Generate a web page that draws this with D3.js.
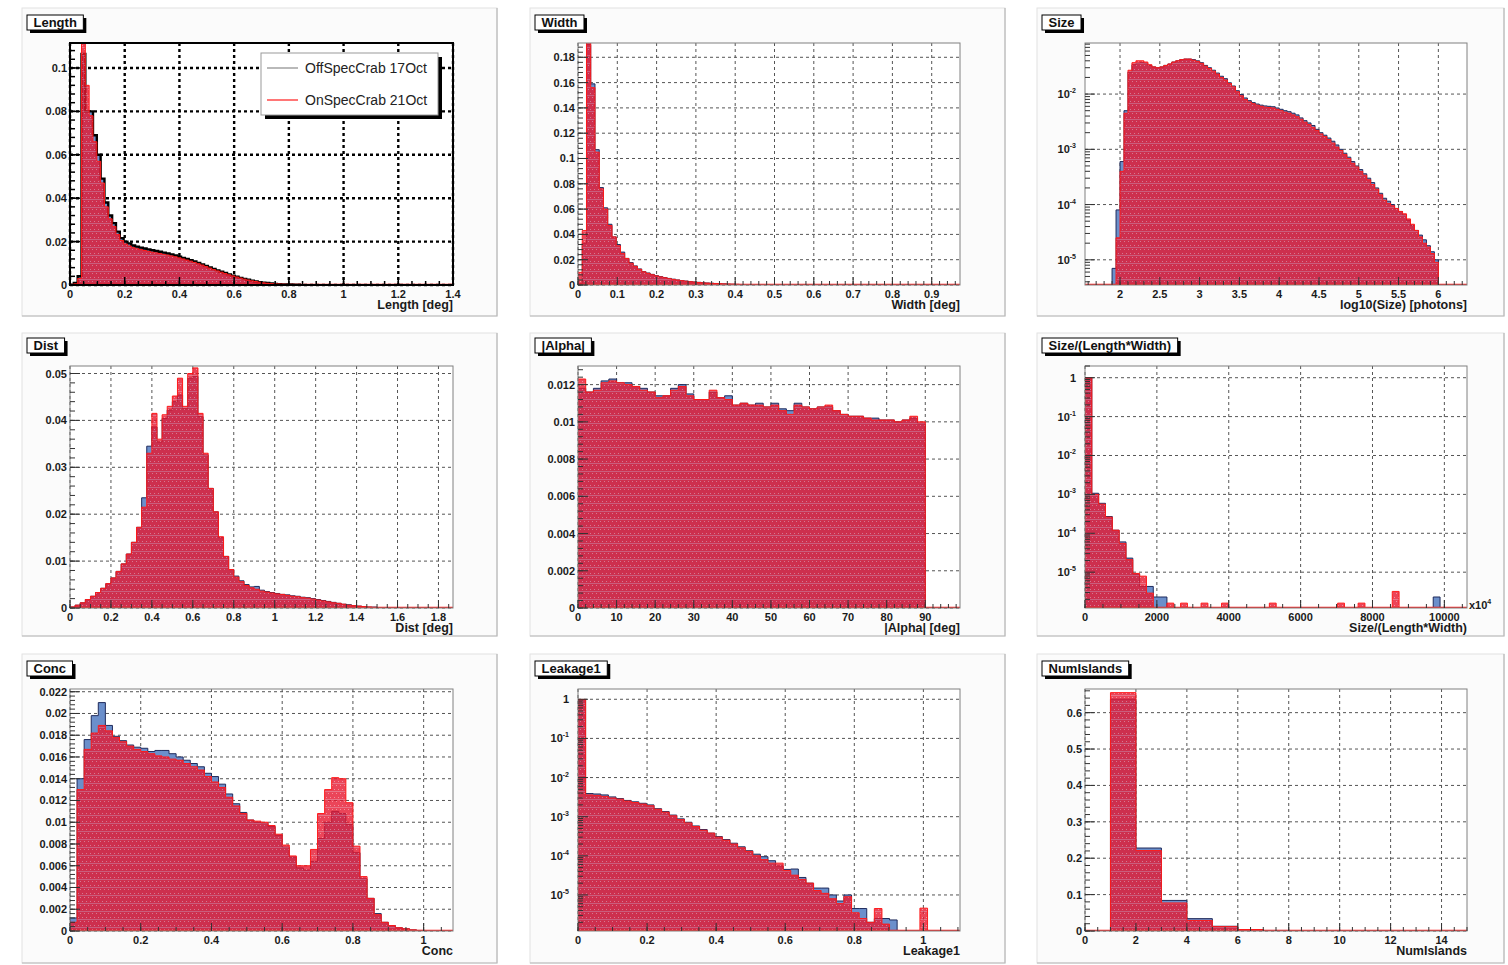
<!DOCTYPE html>
<html>
<head>
<meta charset="utf-8">
<script src="https://cdn.jsdelivr.net/npm/d3@7"></script>
<style>
    body { margin: 0; background: #fff; }
    text { font-family: "Liberation Sans", Arial, Helvetica, sans-serif; }
</style>
</head>
<body>
<div id="chart"></div>
<script>

// ---- histogram contents (normalised counts per bin) ----

var lengthOff = [0, 0.001, 0.004, 0.1065, 0.080, 0.080, 0.069, 0.060, 0.049, 0.038, 0.032, 0.0285, 0.0246, 0.0216, 0.0200,
    0.0192, 0.0182, 0.0177, 0.0172, 0.0168, 0.0164, 0.0160, 0.0157, 0.0153, 0.0149, 0.0145, 0.0141, 0.0136, 0.0130, 0.0125,
    0.0120, 0.0114, 0.0108, 0.0102, 0.0095, 0.0088, 0.0081, 0.0074, 0.0067, 0.0061, 0.0055, 0.0049, 0.0043, 0.0038, 0.0033,
    0.0028, 0.0024, 0.0020, 0.0016, 0.0013, 0.0011, 0.0009, 0.0007, 0.0005, 0.0004, 0.0003, 0.0002, 0.0002, 0.0001, 0.0001];
var lengthOn = [0, 0.0005, 0.003, 0.118, 0.092, 0.078, 0.066, 0.057, 0.047, 0.036, 0.0305, 0.027, 0.0233, 0.0205, 0.0189,
    0.0180, 0.0172, 0.0167, 0.0163, 0.0159, 0.0155, 0.0151, 0.0148, 0.0145, 0.0141, 0.0138, 0.0134, 0.0130, 0.0125, 0.0120,
    0.0115, 0.0110, 0.0104, 0.0098, 0.0092, 0.0085, 0.0078, 0.0071, 0.0065, 0.0059, 0.0053, 0.0047, 0.0042, 0.0037, 0.0032,
    0.0027, 0.0023, 0.0019, 0.0016, 0.0013, 0.0010, 0.0008, 0.0006, 0.0005, 0.0004, 0.0003, 0.0002, 0.0001, 0.0001, 0.0001];

var widthOff = [0.001, 0.033, 0.190, 0.159, 0.107, 0.077, 0.061, 0.048, 0.038, 0.032, 0.026, 0.021, 0.0177, 0.0151, 0.0127,
    0.0106, 0.0095, 0.0084, 0.0074, 0.0066, 0.0059, 0.0052, 0.0046, 0.0040, 0.0035, 0.0031, 0.0027, 0.0024, 0.0021, 0.0018,
    0.0016, 0.0014, 0.0012, 0.0010, 0.0009, 0.0007, 0.0006, 0.0005, 0.0004, 0.0003, 0.0003, 0.0002, 0.0002, 0.0001, 0.0001, 0.0001];
var widthOn = [0.010, 0.043, 0.200, 0.156, 0.105, 0.076, 0.060, 0.047, 0.038, 0.031, 0.025, 0.021, 0.0172, 0.0147, 0.0124,
    0.0104, 0.0092, 0.0081, 0.0072, 0.0064, 0.0057, 0.0050, 0.0044, 0.0039, 0.0034, 0.0030, 0.0026, 0.0023, 0.0020, 0.0017,
    0.0015, 0.0013, 0.0011, 0.0010, 0.0008, 0.0007, 0.0006, 0.0005, 0.0004, 0.0003, 0.0002, 0.0002, 0.0002, 0.0001, 0.0001, 0.0001];

var sizeOff = [7e-6, 8e-5, 6e-4, 5e-3, 0.025, 0.034, 0.036, 0.037, 0.036, 0.033, 0.031, 0.030, 0.031, 0.033, 0.035,
    0.038, 0.040, 0.042, 0.043, 0.043, 0.042, 0.040, 0.037, 0.033, 0.030, 0.027, 0.024, 0.021, 0.019, 0.016,
    0.014, 0.0115, 0.0098, 0.0085, 0.0076, 0.0070, 0.0066, 0.0063, 0.0061, 0.0060, 0.0059, 0.0056, 0.0053, 0.0050, 0.0048,
    0.0045, 0.0042, 0.0037, 0.0033, 0.0030, 0.0027, 0.0023, 0.0020, 0.0018, 0.0016, 0.0014, 0.0012, 0.0010, 8.5e-4, 7.2e-4,
    6.0e-4, 5.0e-4, 4.3e-4, 3.6e-4, 3.0e-4, 2.5e-4, 2.0e-4, 1.6e-4, 1.3e-4, 1.15e-4, 1.0e-4, 8.5e-5, 7.5e-5, 6.5e-5, 5.2e-5,
    4.2e-5, 3.4e-5, 2.8e-5, 2.3e-5, 1.8e-5, 1.4e-5, 1.0e-5];
var sizeOn = [0, 2.5e-5, 4e-4, 4.5e-3, 0.027, 0.037, 0.040, 0.040, 0.038, 0.034, 0.031, 0.030, 0.031, 0.033, 0.035,
    0.038, 0.040, 0.042, 0.043, 0.043, 0.041, 0.039, 0.036, 0.032, 0.029, 0.026, 0.023, 0.020, 0.018, 0.0155,
    0.0135, 0.011, 0.0093, 0.0080, 0.0072, 0.0067, 0.0063, 0.0060, 0.0058, 0.0057, 0.0056, 0.0053, 0.0050, 0.0047, 0.0045,
    0.0042, 0.0039, 0.0035, 0.0031, 0.0028, 0.0025, 0.0022, 0.0019, 0.0017, 0.0015, 0.0013, 0.0011, 9.5e-4, 8.0e-4, 6.8e-4,
    5.6e-4, 4.8e-4, 4.0e-4, 3.4e-4, 2.8e-4, 2.3e-4, 1.9e-4, 1.5e-4, 1.2e-4, 1.05e-4, 9.5e-5, 8.5e-5, 7.5e-5, 6.8e-5, 5.5e-5,
    4.4e-5, 3.4e-5, 2.6e-5, 2.0e-5, 1.7e-5, 1.3e-5, 9e-6];

var distOff = [0.0002, 0.0006, 0.0011, 0.0018, 0.0025, 0.0033, 0.0042, 0.0052, 0.0064, 0.0078, 0.0094, 0.0115, 0.0140, 0.0172,
    0.0235, 0.0345, 0.0386, 0.0354, 0.0404, 0.0422, 0.0440, 0.0454, 0.0425, 0.0490, 0.0494, 0.0408, 0.0326, 0.0255, 0.0205,
    0.0150, 0.0110, 0.0082, 0.0068, 0.0058, 0.0050, 0.0045, 0.0046, 0.0038, 0.0035, 0.0033, 0.0031, 0.0029, 0.0028, 0.0026,
    0.0025, 0.0023, 0.0022, 0.0020, 0.0018, 0.0016, 0.0014, 0.0012, 0.0010, 0.0008, 0.0007, 0.0005, 0.0004, 0.0003, 0.0002,
    0.0002, 0.0001, 0.0001, 0.00005, 0.00003];
var distOn = [0.0002, 0.0006, 0.0011, 0.0018, 0.0025, 0.0033, 0.0042, 0.0052, 0.0064, 0.0078, 0.0094, 0.0115, 0.0140, 0.0172,
    0.0215, 0.0330, 0.0415, 0.0360, 0.0412, 0.0430, 0.0452, 0.0490, 0.0430, 0.0500, 0.0512, 0.0415, 0.0330, 0.0255, 0.0205,
    0.0152, 0.0110, 0.0082, 0.0066, 0.0056, 0.0048, 0.0043, 0.0040, 0.0036, 0.0034, 0.0032, 0.0030, 0.0029, 0.0027, 0.0025,
    0.0024, 0.0022, 0.0021, 0.0019, 0.0017, 0.0015, 0.0013, 0.0011, 0.0010, 0.0008, 0.0006, 0.0005, 0.0004, 0.0003, 0.0002,
    0.0001, 0.0001, 0.0001, 0.00005, 0.00003];

var alphaOff = [0.0118, 0.0116, 0.0118, 0.0122, 0.0123, 0.0121, 0.0121, 0.0119, 0.0118, 0.0116, 0.0114, 0.0114, 0.0118, 0.0120,
    0.0115, 0.0112, 0.0112, 0.0116, 0.0113, 0.0114, 0.0109, 0.0110, 0.0109, 0.0110, 0.0108, 0.0110, 0.0107, 0.0106, 0.0110,
    0.0108, 0.0107, 0.0108, 0.0108, 0.0106, 0.0104, 0.0103, 0.0103, 0.0102, 0.0102, 0.0101, 0.0101, 0.0100, 0.0101, 0.0102, 0.0099];
var alphaOn = [0.0123, 0.0116, 0.0117, 0.0121, 0.0122, 0.0121, 0.0120, 0.0119, 0.0117, 0.0116, 0.0113, 0.0114, 0.0117, 0.0119,
    0.0114, 0.0112, 0.0112, 0.0117, 0.0113, 0.0112, 0.0109, 0.0110, 0.0109, 0.0109, 0.0108, 0.0109, 0.0106, 0.0104, 0.0109,
    0.0108, 0.0107, 0.0108, 0.0109, 0.0106, 0.0104, 0.0103, 0.0103, 0.0102, 0.0101, 0.0101, 0.0101, 0.0100, 0.0101, 0.0103, 0.0100];

var slwOff = [0.997, 1.07e-3, 5.9e-4, 2.7e-4, 1.2e-4, 6e-5, 2.3e-5, 9e-6, 4.3e-6, 4.3e-6, 2.3e-6, 2.3e-6];
var slwOn = [0.997, 1.0e-3, 5.6e-4, 2.6e-4, 1.2e-4, 5.5e-5, 2.1e-5, 9.3e-6, 7.9e-6, 2.9e-6, 0, 0];
// isolated single-event bins far out in the tail: [position, content]
var slwOffSpikes = [[9838, 2.3e-6]];
var slwOnSpikes = [[2372, 1.6e-6], [2698, 1.6e-6], [3256, 1.6e-6], [3815, 1.6e-6], [5238, 1.6e-6],
    [7099, 1.6e-6], [7769, 1.6e-6], [8607, 3.2e-6]];

var concOff = [0.0012, 0.0140, 0.0176, 0.0198, 0.0210, 0.0189, 0.0179, 0.0175, 0.0171, 0.0169, 0.0168, 0.0165, 0.0166, 0.0166,
    0.0163, 0.0160, 0.0157, 0.0154, 0.0151, 0.0145, 0.0142, 0.0135, 0.0126, 0.0117, 0.0109, 0.0102, 0.0100, 0.0099, 0.0096,
    0.0088, 0.0077, 0.0068, 0.0058, 0.0056, 0.0064, 0.0085, 0.0100, 0.0110, 0.0108, 0.0098, 0.0072, 0.0048, 0.0030, 0.0016,
    0.0008, 0.0005, 0.0003, 0.0002, 0.0001, 0.00005];
var concOn = [0.0008, 0.0130, 0.0167, 0.0182, 0.0189, 0.0184, 0.0178, 0.0174, 0.0170, 0.0167, 0.0165, 0.0163, 0.0161, 0.0160,
    0.0158, 0.0157, 0.0154, 0.0151, 0.0148, 0.0142, 0.0137, 0.0132, 0.0123, 0.0115, 0.0108, 0.0102, 0.0101, 0.0100, 0.0097,
    0.0089, 0.0079, 0.0069, 0.0060, 0.0060, 0.0075, 0.0108, 0.0130, 0.0141, 0.0140, 0.0118, 0.0078, 0.0050, 0.0030, 0.0015,
    0.0008, 0.0005, 0.0003, 0.0002, 0.0001, 0.00005];

var leakOff = [0.985, 3.9e-3, 3.8e-3, 3.6e-3, 3.2e-3, 2.9e-3, 2.6e-3, 2.4e-3, 2.2e-3, 2.0e-3, 1.6e-3, 1.35e-3, 1.1e-3, 8.8e-4,
    7.2e-4, 5.8e-4, 4.7e-4, 3.8e-4, 3.1e-4, 2.6e-4, 2.1e-4, 1.7e-4, 1.35e-4, 1.1e-4, 9.5e-5, 7.5e-5, 5.5e-5, 4.5e-5, 4.6e-5,
    2.8e-5, 2.0e-5, 1.5e-5, 1.5e-5, 1.0e-5, 7e-6, 1.0e-5, 4.5e-6, 4.5e-6, 2e-6, 2.5e-6, 2.5e-6, 2.3e-6, 0, 0, 0, 0];
var leakOn = [0.99, 3.6e-3, 3.5e-3, 3.3e-3, 3.0e-3, 2.8e-3, 2.5e-3, 2.3e-3, 2.1e-3, 1.9e-3, 1.55e-3, 1.3e-3, 1.05e-3, 8.4e-4,
    6.9e-4, 5.6e-4, 4.5e-4, 3.8e-4, 3.0e-4, 2.5e-4, 2.0e-4, 1.6e-4, 1.3e-4, 1.0e-4, 8.0e-5, 6.5e-5, 6.5e-5, 4.2e-5, 3.2e-5,
    2.5e-5, 2.0e-5, 1.3e-5, 1.1e-5, 8e-6, 6e-6, 9e-6, 3.5e-6, 2.5e-6, 2e-6, 4.5e-6, 1.8e-6, 0, 0, 0, 0, 4.6e-6];

var islandsOff = [0, 0.637, 0.228, 0.084, 0.034, 0.013, 0.004, 0.0015, 0.0006, 0.0003, 0.0002, 0.0001, 0.0001, 0, 0];
var islandsOn = [0, 0.655, 0.221, 0.077, 0.029, 0.012, 0.004, 0.0013, 0.0005, 0.0002, 0.0001, 0.0001, 0, 0, 0];

// ---- tick values ----
var lengthXTicks = [0, 0.2, 0.4, 0.6, 0.8, 1, 1.2, 1.4];
var lengthYTicks = [0, 0.02, 0.04, 0.06, 0.08, 0.1];
var widthXTicks = [0, 0.1, 0.2, 0.3, 0.4, 0.5, 0.6, 0.7, 0.8, 0.9];
var widthYTicks = [0, 0.02, 0.04, 0.06, 0.08, 0.1, 0.12, 0.14, 0.16, 0.18];
var sizeXTicks = [2, 2.5, 3, 3.5, 4, 4.5, 5, 5.5, 6];
var sizeYTicks = [1e-5, 1e-4, 1e-3, 1e-2];
var distXTicks = [0, 0.2, 0.4, 0.6, 0.8, 1, 1.2, 1.4, 1.6, 1.8];
var distYTicks = [0, 0.01, 0.02, 0.03, 0.04, 0.05];
var alphaXTicks = [0, 10, 20, 30, 40, 50, 60, 70, 80, 90];
var alphaYTicks = [0, 0.002, 0.004, 0.006, 0.008, 0.01, 0.012];
var slwXTicks = [0, 2000, 4000, 6000, 8000, 10000];
var slwYTicks = [1e-5, 1e-4, 1e-3, 1e-2, 1e-1, 1];
var concXTicks = [0, 0.2, 0.4, 0.6, 0.8, 1];
var concYTicks = [0, 0.002, 0.004, 0.006, 0.008, 0.01, 0.012, 0.014, 0.016, 0.018, 0.02, 0.022];
var leakXTicks = [0, 0.2, 0.4, 0.6, 0.8, 1];
var leakYTicks = [1e-5, 1e-4, 1e-3, 1e-2, 1e-1, 1];
var islandsXTicks = [0, 2, 4, 6, 8, 10, 12, 14];
var islandsYTicks = [0, 0.1, 0.2, 0.3, 0.4, 0.5, 0.6];

var legendLabels = ["OffSpecCrab 17Oct", "OnSpecCrab 21Oct"];


function withSpikes(dense, spikes, lo, w) {
    var out = dense.slice();
    spikes.forEach(function (s) {
        var i = Math.floor((s[0] - lo) / w);
        while (out.length <= i) out.push(0);
        out[i] = s[1];
    });
    return out;
}

var panels = [
    {title: "Length", xTitle: "Length [deg]", xDom: [0, 1.4], yDom: [0, 0.1115], lo: 0, w: 0.014,
        off: lengthOff, on: lengthOn, xTicks: lengthXTicks, yTicks: lengthYTicks, xMinor: 0.05, yMinor: 0.004, heavy: true},
    {title: "Width", xTitle: "Width [deg]", xDom: [0, 0.972], yDom: [0, 0.1913], lo: 0, w: 0.0108,
        off: widthOff, on: widthOn, xTicks: widthXTicks, yTicks: widthYTicks, xMinor: 0.02, yMinor: 0.004},
    {title: "Size", xTitle: "log10(Size) [photons]", xDom: [1.56, 6.36], yDom: [3.5e-6, 0.084], log: true, lo: 1.9, w: 0.05,
        off: sizeOff, on: sizeOn, xTicks: sizeXTicks, yTicks: sizeYTicks, xMinor: 0.1},
    {title: "Dist", xTitle: "Dist [deg]", xDom: [0, 1.871], yDom: [0, 0.0516], lo: 0, w: 0.025,
        off: distOff, on: distOn, xTicks: distXTicks, yTicks: distYTicks, xMinor: 0.05, yMinor: 0.002},
    {title: "|Alpha|", xTitle: "|Alpha| [deg]", xDom: [0, 99], yDom: [0, 0.013], lo: 0, w: 2,
        off: alphaOff, on: alphaOn, xTicks: alphaXTicks, yTicks: alphaYTicks, xMinor: 2, yMinor: 0.0004},
    {title: "Size/(Length*Width)", xTitle: "Size/(Length*Width)", xDom: [0, 10630], yDom: [1.2e-6, 2], log: true, lo: 0, w: 190,
        off: withSpikes(slwOff, slwOffSpikes, 0, 190), on: withSpikes(slwOn, slwOnSpikes, 0, 190),
        xTicks: slwXTicks, yTicks: slwYTicks, xMinor: 500, xExp: "4"},
    {title: "Conc", xTitle: "Conc", xDom: [0, 1.083], yDom: [0, 0.02225], lo: 0, w: 0.02,
        off: concOff, on: concOn, xTicks: concXTicks, yTicks: concYTicks, xMinor: 0.05, yMinor: 0.0004},
    {title: "Leakage1", xTitle: "Leakage1", xDom: [0, 1.106], yDom: [1.2e-6, 1.83], log: true, lo: 0, w: 0.022,
        off: leakOff, on: leakOn, xTicks: leakXTicks, yTicks: leakYTicks, xMinor: 0.05},
    {title: "NumIslands", xTitle: "NumIslands", xDom: [0, 15], yDom: [0, 0.665], lo: 0, w: 1,
        off: islandsOff, on: islandsOn, xTicks: islandsXTicks, yTicks: islandsYTicks, xMinor: 0.5, yMinor: 0.02}
];

var frameX = [[70, 453], [578, 960], [1085, 1467]];
var frameY = [[43, 285], [366, 608], [689, 931]];
var padX = [[22, 497], [530, 1005], [1037, 1504]];
var padY = [[8, 316], [333, 636], [654, 963]];
var titleY = [15, 338, 661];

var svg = d3.select("#chart").append("svg")
    .attr("width", 1508)
    .attr("height", 965);

var defs = svg.append("defs");
var pat = defs.append("pattern")
    .attr("id", "redfill")
    .attr("patternUnits", "userSpaceOnUse")
    .attr("width", 4)
    .attr("height", 8);
pat.append("rect").attr("width", 4).attr("height", 8).attr("fill", "#e6172f");
pat.append("rect").attr("x", 0).attr("y", 1).attr("width", 1).attr("height", 1).attr("fill", "#fff").attr("opacity", 0.4);
pat.append("rect").attr("x", 2).attr("y", 5).attr("width", 1).attr("height", 1).attr("fill", "#fff").attr("opacity", 0.4);
pat.append("rect").attr("x", 0).attr("y", 7).attr("width", 4).attr("height", 1).attr("fill", "#d8d8f0").attr("opacity", 0.3);

function fmt(v) {
    return String(+v.toFixed(6));
}

function minorValues(dom, step) {
    var out = [];
    for (var k = Math.ceil(dom[0] / step - 1e-9); k * step <= dom[1] + 1e-9; k++) out.push(k * step);
    return out;
}

function logMinors(dom) {
    var out = [];
    var e0 = Math.floor(Math.log10(dom[0])), e1 = Math.ceil(Math.log10(dom[1]));
    for (var e = e0; e <= e1; e++) {
        for (var m = 2; m <= 9; m++) {
            var v = m * Math.pow(10, e);
            if (v >= dom[0] && v <= dom[1]) out.push(v);
        }
    }
    return out;
}

function stepPoints(p, vals, x, y) {
    var base = y.range()[0];
    var yv = function (v) {
        if (p.log) return v > 0 ? y(v) : base + 3;
        return y(v);
    };
    var pts = [[x(p.lo), base]];
    vals.forEach(function (v, i) {
        pts.push([x(p.lo + i * p.w), yv(v)]);
        pts.push([x(p.lo + (i + 1) * p.w), yv(v)]);
    });
    pts.push([x(p.lo + vals.length * p.w), base]);
    return pts;
}

function drawPanel(p, idx) {
    var col = idx % 3, row = Math.floor(idx / 3);
    var fx0 = frameX[col][0], fx1 = frameX[col][1];
    var fy0 = frameY[row][0], fy1 = frameY[row][1];
    var g = svg.append("g");
    var dark = p.heavy ? "#000" : "#333";

    // pad
    g.append("rect")
        .attr("x", padX[col][0]).attr("y", padY[row][0])
        .attr("width", padX[col][1] - padX[col][0]).attr("height", padY[row][1] - padY[row][0])
        .attr("fill", "#fbfbfb").attr("stroke", "#e2e2e2");
    g.append("path")
        .attr("d", "M" + padX[col][1] + "," + padY[row][0] + "V" + padY[row][1] + "H" + padX[col][0])
        .attr("fill", "none").attr("stroke", "#b8b8b8").attr("stroke-width", 1.2);

    var x = d3.scaleLinear().domain(p.xDom).range([fx0, fx1]);
    var y = (p.log ? d3.scaleLog() : d3.scaleLinear()).domain(p.yDom).range([fy1, fy0]);

    g.append("rect")
        .attr("x", fx0).attr("y", fy0).attr("width", fx1 - fx0).attr("height", fy1 - fy0)
        .attr("fill", "#fff");

    // grid
    var gridStyle = function (sel) {
        sel.attr("stroke", p.heavy ? "#000" : "#555")
            .attr("stroke-width", p.heavy ? 2.4 : 1)
            .attr("stroke-dasharray", "3,3");
    };
    g.selectAll(".gx").data(p.xTicks).enter().append("line")
        .attr("x1", function (d) { return x(d); }).attr("x2", function (d) { return x(d); })
        .attr("y1", fy0).attr("y2", fy1).call(gridStyle);
    g.selectAll(".gy").data(p.yTicks).enter().append("line")
        .attr("x1", fx0).attr("x2", fx1)
        .attr("y1", function (d) { return y(d); }).attr("y2", function (d) { return y(d); }).call(gridStyle);

    // histograms
    var clipId = "clip" + idx;
    defs.append("clipPath").attr("id", clipId).append("rect")
        .attr("x", fx0).attr("y", fy0).attr("width", fx1 - fx0).attr("height", fy1 - fy0);
    var hg = g.append("g").attr("clip-path", "url(#" + clipId + ")");
    var line = d3.line();

    hg.append("path")
        .attr("d", line(stepPoints(p, p.off, x, y)) + "Z")
        .attr("fill", "#6b8fcb")
        .attr("stroke", p.heavy ? "#000" : "#1f2b5c")
        .attr("stroke-width", p.heavy ? 2.4 : 1);
    hg.append("path")
        .attr("d", line(stepPoints(p, p.on, x, y)) + "Z")
        .attr("fill", "url(#redfill)")
        .attr("fill-opacity", 0.8)
        .attr("stroke", "none");
    hg.append("path")
        .attr("d", line(stepPoints(p, p.on, x, y)))
        .attr("fill", "none")
        .attr("stroke", "#ff1a1a")
        .attr("stroke-width", 1);
    hg.append("line")
        .attr("x1", fx0).attr("x2", fx1).attr("y1", fy1 - 0.5).attr("y2", fy1 - 0.5)
        .attr("stroke", "#ff1a1a").attr("stroke-width", 1.5);

    // frame
    g.append("rect")
        .attr("x", fx0).attr("y", fy0).attr("width", fx1 - fx0).attr("height", fy1 - fy0)
        .attr("fill", "none")
        .attr("stroke", p.heavy ? "#000" : "#808080")
        .attr("stroke-width", p.heavy ? 2 : 1);

    // ticks
    var tw = p.heavy ? 1.5 : 1;
    var yMinors = p.log ? logMinors(p.yDom) : minorValues(p.yDom, p.yMinor);
    g.selectAll(".ymin").data(yMinors).enter().append("line")
        .attr("x1", fx0).attr("x2", fx0 + 5)
        .attr("y1", function (d) { return y(d); }).attr("y2", function (d) { return y(d); })
        .attr("stroke", dark).attr("stroke-width", tw);
    g.selectAll(".ymaj").data(p.yTicks).enter().append("line")
        .attr("x1", fx0).attr("x2", fx0 + 10)
        .attr("y1", function (d) { return y(d); }).attr("y2", function (d) { return y(d); })
        .attr("stroke", dark).attr("stroke-width", tw);
    g.selectAll(".xmin").data(minorValues(p.xDom, p.xMinor)).enter().append("line")
        .attr("x1", function (d) { return x(d); }).attr("x2", function (d) { return x(d); })
        .attr("y1", fy1).attr("y2", fy1 - 4)
        .attr("stroke", dark).attr("stroke-width", tw);
    g.selectAll(".xmaj").data(p.xTicks).enter().append("line")
        .attr("x1", function (d) { return x(d); }).attr("x2", function (d) { return x(d); })
        .attr("y1", fy1).attr("y2", fy1 - 8)
        .attr("stroke", dark).attr("stroke-width", tw);

    // tick labels
    g.selectAll(".xl").data(p.xTicks).enter().append("text")
        .attr("x", function (d) { return x(d); })
        .attr("y", fy1 + 13)
        .attr("text-anchor", "middle")
        .attr("font-size", "11px").attr("font-weight", "bold").attr("fill", "#1a1a1a")
        .text(fmt);

    p.yTicks.forEach(function (v) {
        var t = g.append("text")
            .attr("x", p.log ? fx0 - 9 : fx0 - 3)
            .attr("y", y(v) + 4)
            .attr("text-anchor", "end")
            .attr("font-size", "11px").attr("font-weight", "bold").attr("fill", "#1a1a1a");
        if (!p.log || v === 1) {
            t.text(fmt(v));
        } else {
            t.append("tspan").text("10");
            t.append("tspan").attr("dy", -5).attr("font-size", "7px")
                .text(String(Math.round(Math.log10(v))));
        }
    });

    if (p.xExp) {
        var ex = g.append("text")
            .attr("x", fx1 + 2).attr("y", fy1 + 1)
            .attr("font-size", "11px").attr("font-weight", "bold").attr("fill", "#1a1a1a");
        ex.append("tspan").text("x10");
        ex.append("tspan").attr("dy", -5).attr("font-size", "7px").text(p.xExp);
    }

    g.append("text")
        .attr("x", fx1).attr("y", fy1 + 24)
        .attr("text-anchor", "end")
        .attr("font-size", "12.5px").attr("font-weight", "bold").attr("fill", "#1a1a1a")
        .text(p.xTitle);

    // title box with shadow
    var tb = g.append("g");
    var bx = padX[col][0] + 5, by = titleY[row];
    var shadow = tb.append("rect").attr("fill", "#000");
    var box = tb.append("rect").attr("fill", "#fff").attr("stroke", "#000").attr("stroke-width", 1);
    var tt = tb.append("text")
        .attr("x", bx + 6.5).attr("y", by + 12)
        .attr("font-size", "13px").attr("font-weight", "bold").attr("fill", "#111")
        .text(p.title);
    var bw = tt.node().getComputedTextLength() + 13;
    shadow.attr("x", bx + 3).attr("y", by + 3).attr("width", bw).attr("height", 15);
    box.attr("x", bx).attr("y", by).attr("width", bw).attr("height", 15);

    if (p.heavy) drawLegend(g);
}

function drawLegend(g) {
    var lx = 261, ly = 53, lw = 177, lh = 62;
    g.append("rect").attr("x", lx + 4).attr("y", ly + 4).attr("width", lw).attr("height", lh).attr("fill", "#000");
    g.append("rect").attr("x", lx).attr("y", ly).attr("width", lw).attr("height", lh)
        .attr("fill", "#fff").attr("stroke", "#999");
    var colors = ["#8a8a8a", "#ff1a1a"];
    legendLabels.forEach(function (lab, i) {
        var yy = ly + 15 + i * 32;
        g.append("line").attr("x1", lx + 6).attr("x2", lx + 37).attr("y1", yy).attr("y2", yy)
            .attr("stroke", colors[i]).attr("stroke-width", 1.2);
        g.append("text").attr("x", lx + 44).attr("y", yy + 5)
            .attr("font-size", "14px").attr("fill", "#222")
            .text(lab);
    });
}

panels.forEach(drawPanel);

</script>
</body>
</html>
